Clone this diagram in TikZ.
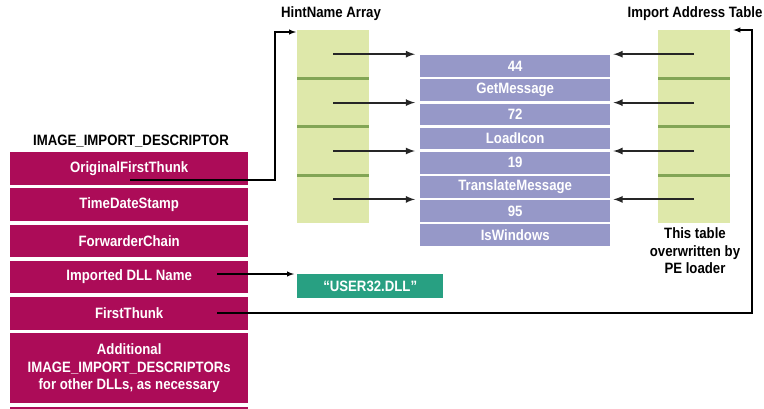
\documentclass[tikz,border=0pt]{standalone}
\usepackage{fontspec}
\setmainfont{Liberation Sans}[FakeStretch=0.88]
\usetikzlibrary{arrows}
\usetikzlibrary{positioning}

\definecolor{descr}{RGB}{172,12,88}
\definecolor{names}{RGB}{150,152,200}
\definecolor{thunk}{RGB}{222,232,170}
\definecolor{thunkrule}{RGB}{130,165,85}
\definecolor{dllname}{RGB}{40,160,130}

\begin{document}
\begin{tikzpicture}[x=1pt,y=-1pt,
    txt/.style={font=\fontsize{15}{17.5}\selectfont\bfseries},
    field/.style={txt,fill=descr,text=white,minimum width=238pt,minimum height=32.5pt,
        inner sep=0pt,anchor=north west},
    entry/.style={txt,fill=names,text=white,minimum width=190pt,minimum height=21.75pt,
        inner sep=0pt,anchor=north west},
    slot/.style={fill=thunk,minimum width=72pt,minimum height=48pt,inner sep=0pt,
        anchor=north west},
    link/.style={line width=1.4pt,-latex},
    ptr/.style={line width=2.1pt,draw=black!85,-latex}]
    \useasboundingbox (0,0) rectangle (764,408);

    % IMAGE_IMPORT_DESCRIPTOR
    \node[txt] (idt) at (131,141) {IMAGE\_IMPORT\_DESCRIPTOR};
    \node[field] (oft) at (10,152) {OriginalFirstThunk};
    \node[field,below=3.3pt of oft] (tds) {TimeDateStamp};
    \node[field,below=3.3pt of tds] (fwd) {ForwarderChain};
    \node[field,below=3.3pt of fwd] (dll) {Imported DLL Name};
    \node[field,below=3.3pt of dll] (ft) {FirstThunk};
    \node[field,below=3.3pt of ft,minimum height=70pt,align=center] (more)
        {Additional\\IMAGE\_IMPORT\_DESCRIPTORs\\for other DLLs, as necessary};
    \node[field,below=3pt of more,minimum height=10pt] (next) {};

    % hint/name entries
    \node[entry] (row1) at (420,55) {44};
    \node[entry,below=2pt of row1] (row2) {GetMessage};
    \node[entry,below=2pt of row2] (row3) {72};
    \node[entry,below=2pt of row3] (row4) {LoadIcon};
    \node[entry,below=2pt of row4] (row5) {19};
    \node[entry,below=2pt of row5] (row6) {TranslateMessage};
    \node[entry,below=2pt of row6] (row7) {95};
    \node[entry,below=2pt of row7] (row8) {IsWindows};

    % the two thunk arrays
    \node[txt] (hnt) at (331,14) {HintName Array};
    \node[txt] (iatt) at (695,14) {Import Address Table};
    \node[slot] (hn1) at (297,30) {};
    \node[slot] (iat1) at (658,30) {};
    \foreach \c in {hn,iat}{
        \foreach \i [evaluate=\i as \j using int(\i+1)] in {1,2,3}
            \node[slot,below=0pt of \c\i] (\c\j) {};
        \foreach \i in {1,2,3}
            \draw[thunkrule,line width=3pt] (\c\i.south west) -- (\c\i.south east);
    }
    \node[txt,align=center] (note) at (695,251) {This table\\overwritten by\\PE loader};

    \node[txt,fill=dllname,text=white,minimum width=146pt,minimum height=24pt,
        inner sep=0pt,anchor=north west] (usr) at (297,274)
        {\textquotedblleft USER32.DLL\textquotedblright};

    \foreach \i/\r in {1/1,2/3,3/5,4/7}{
        \draw[ptr,shorten >=5pt] (hn\i.center) -- (hn\i.center -| row\r.west);
        \draw[ptr,shorten >=3pt] (iat\i.center) -- (iat\i.center -| row\r.east);
    }

    % descriptor fields pointing out
    \coordinate (lrail) at (275,0);
    \coordinate (rrail) at (752,0);
    \coordinate (oft-tail) at (130,180);
    \coordinate (dll-tail) at (217,274);
    \coordinate (ft-tail) at (217,313);
    \draw[link,shorten >=1pt] (oft-tail) -- (oft-tail -| lrail) |- ([yshift=-2pt]hn1.north west);
    \draw[link,shorten >=3pt] (dll-tail) -- (dll-tail -| usr.west);
    \draw[link] (ft-tail) -- (ft-tail -| rrail) |- ([xshift=3pt]iat1.north east);
\end{tikzpicture}
\end{document}
